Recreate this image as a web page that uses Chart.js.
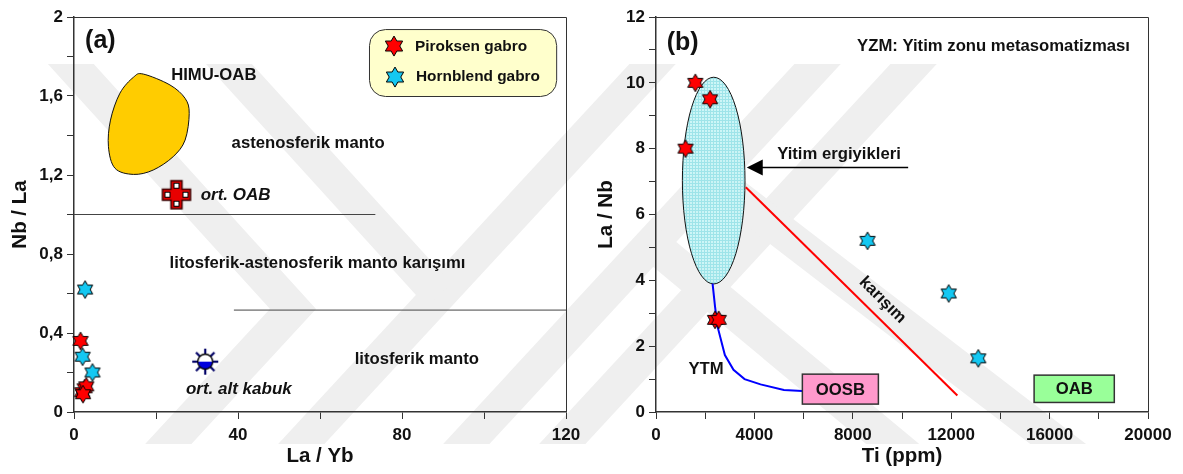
<!DOCTYPE html>
<html>
<head>
<meta charset="utf-8">
<script src="https://cdn.jsdelivr.net/npm/chart.js@4.4.1/dist/chart.umd.min.js"></script>
<style>
  html, body { margin: 0; padding: 0; background: #fff; }
  #page { position: relative; width: 1183px; height: 474px; overflow: hidden; }
  .panel { position: absolute; top: 0; }
  #mark { position: absolute; left: 0; top: 0; }
</style>
</head>
<body>
<div id="page">
  <!-- faint background emblem -->
  <svg id="mark" width="1183" height="474">
    <defs><clipPath id="band"><rect x="0" y="64" width="1183" height="380"/></clipPath></defs>
    <g clip-path="url(#band)" stroke="#efefef" stroke-width="34" fill="none" stroke-linecap="butt" stroke-linejoin="miter">
      <polyline points="40,30 293,309 135,480"/>
      <line x1="268" y1="480" x2="684" y2="30"/>
      <line x1="433" y1="480" x2="849" y2="30"/>
      <line x1="529" y1="480" x2="945" y2="30"/>
      <line x1="198" y1="30" x2="439" y2="295"/>
      <line x1="712" y1="178" x2="1105" y2="480"/>
      <line x1="651" y1="243" x2="936" y2="480"/>
    </g>
  </svg>
  <canvas id="chartA" class="panel" width="590" height="474" style="left:0"></canvas>
  <canvas id="chartB" class="panel" width="593" height="474" style="left:590px"></canvas>
</div>
<script>
// ---- (a) La/Yb vs Nb/La ----
const pirLaYb = [1.6, 2.0, 2.6, 3.0, 2.2];
const pirNbLa = [0.36, 0.10, 0.12, 0.13, 0.09];
const hbLaYb = [2.7, 2.1, 4.5];
const hbNbLa = [0.62, 0.28, 0.20];
const oabAvg = [25, 1.1];            // ort. OAB
const lowerCrustAvg = [32, 0.255];   // ort. alt kabuk
const himuLaYb = [16.9, 23.4, 27.1, 28.1, 27.1, 24.2, 19.3, 14.5, 10.0, 8.4, 8.9, 11.2, 14.5];
const himuNbLa = [1.711, 1.656, 1.588, 1.512, 1.377, 1.293, 1.225, 1.203, 1.234, 1.343, 1.478, 1.614, 1.695];
const asthLineLaYb = [0, 73.5];
const asthLineNbLa = [1.0, 1.0];
const lithLineLaYb = [39, 120];
const lithLineNbLa = [0.516, 0.516];
const xLabelsA = [0, 40, 80, 120];
const yLabelsA = [0, 0.4, 0.8, 1.2, 1.6, 2];

// ---- (b) Ti vs La/Nb ----
const pirTi = [1600, 2200, 1200, 2400, 2550];
const pirLaNb = [10.0, 9.5, 8.0, 2.8, 2.8];
const hbTi = [8600, 11900, 13100];
const hbLaNb = [5.2, 3.6, 1.63];
const mixTi = [3650, 12250];
const mixLaNb = [6.83, 0.5];
const ytmTi = [2300, 2400, 2500, 2800, 3150, 3600, 4250, 5200, 5950];
const ytmLaNb = [3.9, 3.2, 2.6, 1.73, 1.28, 1.0, 0.84, 0.67, 0.64];
const meltField = [2345, 7.03, 1273, 3.14];   // centre Ti, centre La/Nb, half-width, half-height
const oosbBox = [5950, 9040, 0.24, 1.15];
const oabBox = [15370, 18630, 0.29, 1.12];
const arrowTi = [3690, 10250];
const arrowLaNb = 7.44;
const xLabelsB = [0, 4000, 8000, 12000, 16000, 20000];
const yLabelsB = [0, 2, 4, 6, 8, 10, 12];

const FONT = '"Liberation Sans", Arial, sans-serif';
Chart.defaults.font.family = FONT;
Chart.defaults.font.weight = 'bold';
Chart.defaults.font.size = 17;
Chart.defaults.color = '#111';
Chart.defaults.animation = false;
Chart.defaults.events = [];
Chart.defaults.plugins.legend.display = false;
Chart.defaults.plugins.tooltip.enabled = false;

const pairs = (xs, ys) => xs.map((x, i) => ({ x, y: ys[i] }));

// marker images
function hexStar(fill, r) {
  const s = Math.ceil(r * 2 + 4), c = document.createElement('canvas');
  c.width = c.height = s;
  const g = c.getContext('2d');
  g.translate(s / 2, s / 2);
  g.beginPath();
  for (let k = 0; k < 12; k++) {
    const a = -Math.PI / 2 + k * Math.PI / 6;
    const rr = k % 2 ? r / Math.sqrt(3) : r;
    g.lineTo(rr * Math.cos(a), rr * Math.sin(a));
  }
  g.closePath();
  g.fillStyle = fill; g.fill();
  g.lineWidth = 1; g.strokeStyle = '#000'; g.stroke();
  return c;
}

function crossMark() {
  const c = document.createElement('canvas');
  c.width = c.height = 32;
  const g = c.getContext('2d');
  g.translate(16, 16);
  const a = 5.5, L = 14;
  const pts = [[-a,-L],[a,-L],[a,-a],[L,-a],[L,a],[a,a],[a,L],[-a,L],[-a,a],[-L,a],[-L,-a],[-a,-a]];
  g.beginPath();
  pts.forEach(p => g.lineTo(p[0], p[1]));
  g.closePath();
  g.fillStyle = '#e80000'; g.fill();
  g.lineWidth = 1.5; g.strokeStyle = '#3a0000'; g.stroke();
  g.fillStyle = '#fff'; g.strokeStyle = '#000'; g.lineWidth = 1;
  [[0,-9],[9,0],[0,9],[-9,0]].forEach(p => {
    g.fillRect(p[0] - 2.5, p[1] - 2.5, 5, 5);
    g.strokeRect(p[0] - 2.5, p[1] - 2.5, 5, 5);
  });
  return c;
}

function sunMark() {
  const c = document.createElement('canvas');
  c.width = c.height = 30;
  const g = c.getContext('2d');
  g.translate(15, 15);
  g.strokeStyle = '#000066'; g.lineWidth = 2.2;
  for (let k = 0; k < 8; k++) {
    const a = k * Math.PI / 4;
    g.beginPath();
    g.moveTo(7 * Math.cos(a), 7 * Math.sin(a));
    g.lineTo(13 * Math.cos(a), 13 * Math.sin(a));
    g.stroke();
  }
  g.beginPath(); g.arc(0, 0, 7.5, Math.PI, 0); g.closePath();
  g.fillStyle = '#fff'; g.fill();
  g.beginPath(); g.arc(0, 0, 7.5, 0, Math.PI); g.closePath();
  g.fillStyle = '#0000dd'; g.fill();
  g.beginPath(); g.arc(0, 0, 7.5, 0, Math.PI * 2);
  g.lineWidth = 1.3; g.strokeStyle = '#000'; g.stroke();
  return c;
}

const redStar = hexStar('#ff0000', 8.8);
const cyanStar = hexStar('#14c8f2', 8.8);
const redStarBig = hexStar('#ff0000', 10);
const cyanStarBig = hexStar('#14c8f2', 10);

function drawText(ctx, str, x, y, o = {}) {
  ctx.save();
  ctx.translate(x, y);
  ctx.rotate(o.rot || 0);
  ctx.font = `${o.italic ? 'italic ' : ''}bold ${o.size || 16.7}px ${FONT}`;
  ctx.fillStyle = '#111';
  ctx.textAlign = o.align || 'center';
  ctx.textBaseline = 'middle';
  ctx.fillText(str, 0, 0);
  ctx.restore();
}

function closedSpline(ctx, p) {
  const n = p.length;
  ctx.moveTo(p[0].x, p[0].y);
  for (let i = 0; i < n; i++) {
    const p0 = p[(i - 1 + n) % n], p1 = p[i], p2 = p[(i + 1) % n], p3 = p[(i + 2) % n];
    ctx.bezierCurveTo(p1.x + (p2.x - p0.x) / 6, p1.y + (p2.y - p0.y) / 6,
                      p2.x - (p3.x - p1.x) / 6, p2.y - (p3.y - p1.y) / 6, p2.x, p2.y);
  }
  ctx.closePath();
}

function frame(chart) {
  const { ctx, chartArea: a } = chart;
  ctx.save();
  ctx.strokeStyle = '#333'; ctx.lineWidth = 1;
  ctx.beginPath();
  ctx.moveTo(a.left, a.top + 0.5); ctx.lineTo(a.right + 0.5, a.top + 0.5); ctx.lineTo(a.right + 0.5, a.bottom);
  ctx.stroke();
  ctx.restore();
}

function axis(min, max, step, shown, fmt, title, isY, size, titlePad) {
  return {
    type: 'linear', min, max,
    ticks: {
      stepSize: step, autoSkip: false, maxRotation: 0, padding: isY ? 4 : 6, color: '#111',
      font: { size: 17, weight: 'bold' },
      callback: v => {
        const hit = shown.find(t => Math.abs(t - v) < 1e-6);
        return hit === undefined ? '' : fmt(hit);
      }
    },
    grid: { drawOnChartArea: false, drawTicks: true, tickLength: 7, color: '#333', lineWidth: 1 },
    border: { color: '#333', width: 1.5 },
    title: { display: true, text: title, color: '#111', font: { size: 20.5, weight: 'bold' },
             padding: isY ? { top: titlePad, bottom: 0 } : { top: 0, bottom: titlePad } },
    afterFit: s => { if (isY) s.width = size; else s.height = size; }
  };
}

const commaFmt = v => String(v).replace('.', ',');

// ---- chart (a) ----
const notesA = [
  ['(a)', 2.7, 1.876, { size: 25, align: 'left' }],
  ['HIMU-OAB', 34.1, 1.706],
  ['astenosferik manto', 57.1, 1.36],
  ['ort. OAB', 30.9, 1.099, { italic: true, align: 'left', size: 17 }],
  ['litosferik-astenosferik manto karışımı', 59.4, 0.753],
  ['litosferik manto', 83.6, 0.268],
  ['ort. alt kabuk', 40.2, 0.116, { italic: true, size: 17 }]
];
const legendA = { x: [71.95, 117.6], y: [1.939, 1.60] };

const panelA = {
  id: 'panelA',
  beforeDatasetsDraw(chart) {
    const { ctx, scales: { x, y } } = chart;
    const p = himuLaYb.map((v, i) => ({ x: x.getPixelForValue(v), y: y.getPixelForValue(himuNbLa[i]) }));
    ctx.save();
    ctx.beginPath();
    closedSpline(ctx, p);
    ctx.fillStyle = '#ffcc00'; ctx.fill();
    ctx.lineWidth = 1; ctx.strokeStyle = '#111'; ctx.stroke();
    ctx.restore();
  },
  afterDatasetsDraw(chart) {
    const { ctx, scales: { x, y } } = chart;
    frame(chart);
    notesA.forEach(n => drawText(ctx, n[0], x.getPixelForValue(n[1]), y.getPixelForValue(n[2]), n[3]));
    // legend
    const l = x.getPixelForValue(legendA.x[0]), r = x.getPixelForValue(legendA.x[1]);
    const t = y.getPixelForValue(legendA.y[0]), b = y.getPixelForValue(legendA.y[1]);
    ctx.save();
    ctx.beginPath();
    ctx.roundRect(l + 0.5, t + 0.5, r - l, b - t, 16);
    ctx.fillStyle = '#ffffcc'; ctx.fill();
    ctx.lineWidth = 1; ctx.strokeStyle = '#333'; ctx.stroke();
    ctx.drawImage(redStarBig, l + 25 - redStarBig.width / 2, t + 17 - redStarBig.height / 2);
    ctx.drawImage(cyanStarBig, l + 26 - cyanStarBig.width / 2, t + 48 - cyanStarBig.height / 2);
    ctx.restore();
    drawText(ctx, 'Piroksen gabro', l + 46, t + 18, { align: 'left', size: 15.4 });
    drawText(ctx, 'Hornblend gabro', l + 47, t + 48, { align: 'left', size: 15.4 });
  }
};

new Chart(document.getElementById('chartA'), {
  type: 'scatter',
  data: {
    datasets: [
      { data: pairs(pirLaYb, pirNbLa), pointStyle: redStar, pointRadius: 9, clip: false },
      { data: pairs(hbLaYb, hbNbLa), pointStyle: cyanStar, pointRadius: 9, clip: false },
      { data: [{ x: oabAvg[0], y: oabAvg[1] }], pointStyle: crossMark(), pointRadius: 14 },
      { data: [{ x: lowerCrustAvg[0], y: lowerCrustAvg[1] }], pointStyle: sunMark(), pointRadius: 13 },
      { data: pairs(asthLineLaYb, asthLineNbLa), showLine: true, pointRadius: 0, borderColor: '#444', borderWidth: 1 },
      { data: pairs(lithLineLaYb, lithLineNbLa), showLine: true, pointRadius: 0, borderColor: '#444', borderWidth: 1 }
    ]
  },
  options: {
    responsive: false,
    devicePixelRatio: 1,
    layout: { padding: { left: 0, right: 24, top: 17, bottom: 0 } },
    scales: {
      x: axis(0, 120, 20, xLabelsA, String, 'La / Yb', false, 62, 5),
      y: axis(0, 2, 0.2, yLabelsA, commaFmt, 'Nb / La', true, 74, 8)
    }
  },
  plugins: [panelA]
});

// ---- chart (b) ----
const notesB = [
  ['(b)', 435, 11.21, { size: 25, align: 'left' }],
  ['YZM: Yitim zonu metasomatizması', 13720, 11.1],
  ['Yitim ergiyikleri', 7439, 7.84],
  ['karışım', 9207, 3.40, { rot: 44.6 * Math.PI / 180 }],
  ['YTM', 2033, 1.30]
];

// translucent fine grid fill for the melt field
function hatch(ctx) {
  const c = document.createElement('canvas');
  c.width = c.height = 3;
  const g = c.getContext('2d');
  g.fillStyle = 'rgba(196, 244, 246, 0.85)'; g.fillRect(0, 0, 3, 3);
  g.fillStyle = 'rgba(150, 226, 232, 0.85)'; g.fillRect(0, 0, 3, 1); g.fillRect(0, 1, 1, 2);
  return ctx.createPattern(c, 'repeat');
}

function box(ctx, x, y, b, fill, label) {
  const l = x.getPixelForValue(b[0]), r = x.getPixelForValue(b[1]);
  const t = y.getPixelForValue(b[3]), btm = y.getPixelForValue(b[2]);
  ctx.save();
  ctx.fillStyle = fill; ctx.fillRect(l, t, r - l, btm - t);
  ctx.lineWidth = 1.5; ctx.strokeStyle = '#333'; ctx.strokeRect(l, t, r - l, btm - t);
  ctx.restore();
  drawText(ctx, label, (l + r) / 2, (t + btm) / 2 + 1, { size: 16.7 });
}

const panelB = {
  id: 'panelB',
  beforeDatasetsDraw(chart) {
    const { ctx, scales: { x, y } } = chart;
    const cx = x.getPixelForValue(meltField[0]), cy = y.getPixelForValue(meltField[1]);
    const rx = x.getPixelForValue(meltField[0] + meltField[2]) - cx;
    const ry = cy - y.getPixelForValue(meltField[1] + meltField[3]);
    ctx.save();
    ctx.beginPath();
    ctx.ellipse(cx, cy, rx, ry, 0, 0, Math.PI * 2);
    ctx.fillStyle = hatch(ctx); ctx.fill();
    ctx.lineWidth = 1; ctx.strokeStyle = '#111'; ctx.stroke();
    ctx.restore();
  },
  afterDatasetsDraw(chart) {
    const { ctx, scales: { x, y } } = chart;
    frame(chart);
    box(ctx, x, y, oosbBox, '#ff99cc', 'OOSB');
    box(ctx, x, y, oabBox, '#99ff99', 'OAB');
    // arrow pointing at the melt field
    const tip = x.getPixelForValue(arrowTi[0]), end = x.getPixelForValue(arrowTi[1]);
    const ay = Math.round(y.getPixelForValue(arrowLaNb)) + 0.5;
    ctx.save();
    ctx.strokeStyle = '#000'; ctx.lineWidth = 1.3;
    ctx.beginPath(); ctx.moveTo(tip + 14, ay); ctx.lineTo(end, ay); ctx.stroke();
    ctx.beginPath(); ctx.moveTo(tip, ay); ctx.lineTo(tip + 16, ay - 8); ctx.lineTo(tip + 16, ay + 8); ctx.closePath();
    ctx.fillStyle = '#000'; ctx.fill();
    ctx.restore();
    notesB.forEach(n => drawText(ctx, n[0], x.getPixelForValue(n[1]), y.getPixelForValue(n[2]), n[3]));
  }
};

new Chart(document.getElementById('chartB'), {
  type: 'scatter',
  data: {
    datasets: [
      { data: pairs(pirTi, pirLaNb), pointStyle: redStar, pointRadius: 9, clip: false },
      { data: pairs(hbTi, hbLaNb), pointStyle: cyanStar, pointRadius: 9, clip: false },
      { data: pairs(mixTi, mixLaNb), showLine: true, pointRadius: 0, borderColor: '#ff0000', borderWidth: 2 },
      { data: pairs(ytmTi, ytmLaNb), showLine: true, pointRadius: 0, borderColor: '#0000ff', borderWidth: 2 }
    ]
  },
  options: {
    responsive: false,
    devicePixelRatio: 1,
    layout: { padding: { left: 0, right: 35, top: 17, bottom: 0 } },
    scales: {
      x: axis(0, 20000, 2000, xLabelsB, String, 'Ti (ppm)', false, 62, 5),
      y: axis(0, 12, 1, yLabelsB, String, 'La / Nb', true, 66, 4)
    }
  },
  plugins: [panelB]
});
</script>
</body>
</html>
